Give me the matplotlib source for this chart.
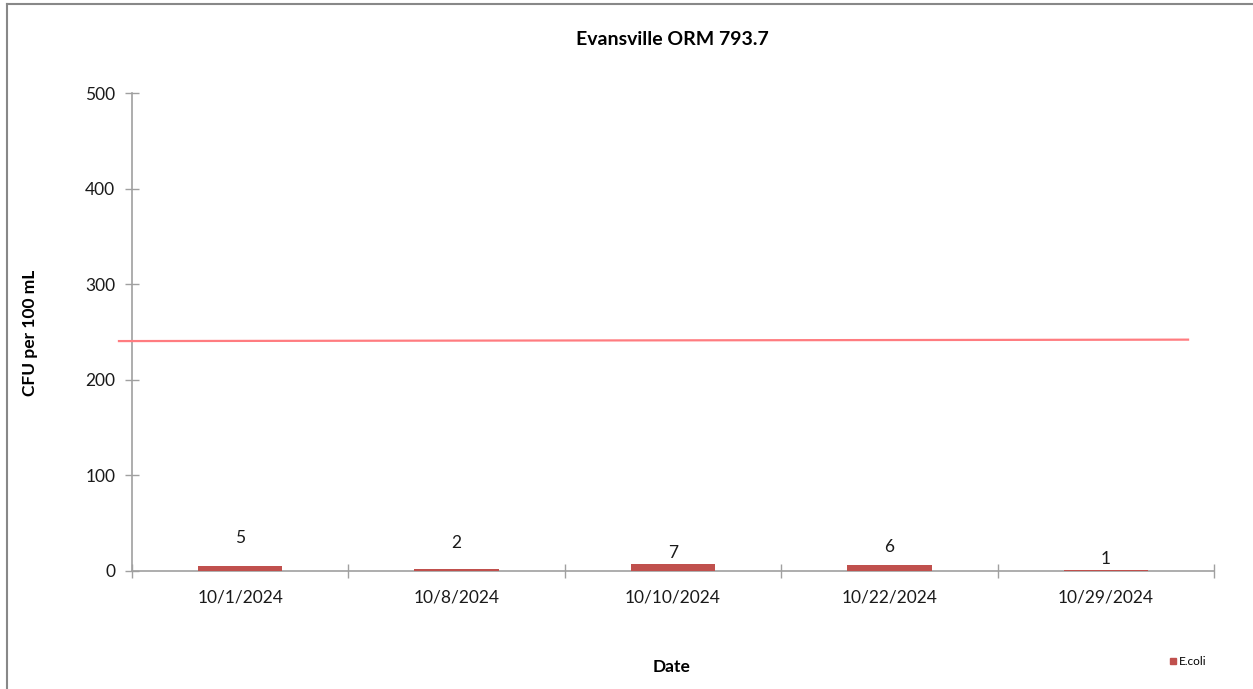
import matplotlib
matplotlib.use('Agg')
import matplotlib.pyplot as plt
import numpy as np
from matplotlib.lines import Line2D

# data
dates = ['10/1/2024', '10/8/2024', '10/10/2024', '10/22/2024', '10/29/2024']
ecoli = [5, 2, 7, 6, 1]
# text positions of the value labels (CFU units, as placed in original)
label_y = [34.5, 29.3, 18.8, 25.1, 12.6]
# standard line (x in category units, y in CFU)
std_x = [-0.56, 4.38]
std_y = [240.5, 242.0]

plt.rcParams['font.family'] = ['Lato', 'DejaVu Sans']

fig = plt.figure(figsize=(12.53, 6.89), dpi=100)
ax = fig.add_axes([0.1053, 0.1713, 0.8636, 0.6937])

x = np.arange(len(dates))
ax.bar(x, ecoli, width=0.39, color='#c0504d', zorder=3, label='E.coli')
for xi, v, ly in zip(x, ecoli, label_y):
    ax.text(xi, ly, str(v), ha='center', va='center', fontsize=12.5, color='#1a1a1a')

ax.plot(std_x, std_y, color='#ff7c80', lw=1.6, zorder=4, clip_on=False)

ax.set_xlim(-0.5, len(dates) - 0.5)
ax.set_ylim(0, 500)
ax.set_yticks(range(0, 501, 100))
ax.set_xticks(x)
ax.set_xticklabels(dates)
ax.set_xticks(np.arange(-0.5, len(dates)), minor=True)
ax.tick_params(axis='x', which='major', length=0, pad=13, labelsize=12.5, labelcolor='#1a1a1a')
ax.tick_params(axis='x', which='minor', length=10, direction='inout', color='#a0a0a0', width=1)
ax.tick_params(axis='y', length=10, direction='inout', color='#a0a0a0', width=1,
               pad=7, labelsize=12.5, labelcolor='#1a1a1a')

for s in ['top', 'right']:
    ax.spines[s].set_visible(False)
for s in ['left', 'bottom']:
    ax.spines[s].set_color('#a0a0a0')
    ax.spines[s].set_linewidth(1.2)

fig.text(0.537, 0.942, 'Evansville ORM 793.7', ha='center', va='center',
         fontsize=14, fontweight='bold')
fig.text(0.536, 0.032, 'Date', ha='center', va='center', fontsize=12.5, fontweight='bold')
fig.text(0.024, 0.517, 'CFU per 100 mL', ha='center', va='center', rotation=90,
         fontsize=12.5, fontweight='bold')

leg = fig.legend(handles=[Line2D([], [], marker='s', ls='', color='#c0504d', markersize=5)],
                 labels=['E.coli'], loc='center', bbox_to_anchor=(0.948, 0.04),
                 frameon=False, fontsize=8.5, handletextpad=0.1, handlelength=0.8)

# outer chart border (left and top edges visible)
fig.add_artist(Line2D([0.0058, 0.0058], [0, 0.994], transform=fig.transFigure,
                      color='#888888', lw=1.5))
fig.add_artist(Line2D([0.0058, 1], [0.994, 0.994], transform=fig.transFigure,
                      color='#888888', lw=1.5))

fig.savefig('out.png', dpi=100)
